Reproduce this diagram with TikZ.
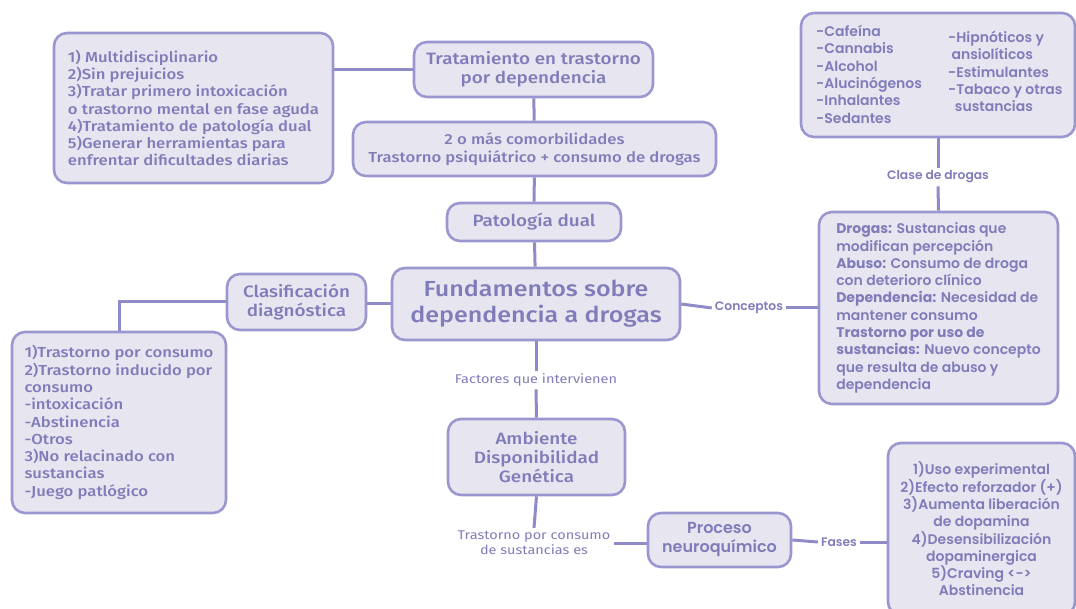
\documentclass[tikz,border=0pt]{standalone}
\usepackage{fontspec}
\setmainfont{Fira Sans}[UprightFont=* Medium, BoldFont=* SemiBold, FakeStretch=1.15]
\newfontfamily\lfont{Fira Sans}[FakeStretch=1.15]
\newfontfamily\pfont{Poppins}[UprightFont=* SemiBold, BoldFont=* Bold]
\definecolor{fillc}{HTML}{E7E5F0}
\definecolor{bordc}{HTML}{9A96CF}
\definecolor{linec}{HTML}{8F8BC8}
\definecolor{txtc}{HTML}{807CBA}
\tikzset{
  box/.style={draw=bordc, fill=fillc, line width=2.6pt, rounded corners=13pt, text=txtc, inner sep=0pt},
  conn/.style={draw=linec, line width=3pt},
  lbl/.style={text=txtc, inner sep=3pt, align=center},
  fs/.style={font=\fontsize{14.5}{17.3}\selectfont},
  fb/.style={font=\fontsize{16.4}{19}\selectfont},
  ps/.style={font=\pfont\fontsize{14}{17.3}\selectfont},
}
\begin{document}
\begin{tikzpicture}[x=1pt,y=-1pt]
\useasboundingbox (0,0) rectangle (1076,609);
\clip (0,0) rectangle (1076,609);
% boxes
\node[box, fs, align=left, minimum width=279pt, minimum height=150pt] (tl) at (193.5,108) {1) Multidisciplinario\\2)Sin prejuicios\\3)Tratar primero intoxicación\\o trastorno mental en fase aguda\\4)Tratamiento de patología dual\\5)Generar herramientas para\\enfrentar dificultades diarias};
\node[box, align=center, fb, minimum width=239pt, minimum height=55pt] (trat) at (533.5,69.5) {Tratamiento en trastorno\\por dependencia};
\node[box, align=center, fs, minimum width=363pt, minimum height=54pt] (como) at (534.5,149) {2 o más comorbilidades\\Trastorno psiquiátrico + consumo de drogas};
\node[box, align=center, fb, minimum width=174pt, minimum height=38pt] (pat) at (534,222) {Patología dual};
\node[box, align=center, font=\fontsize{21.8}{26}\selectfont, minimum width=288pt, minimum height=72pt] (fund) at (536,304) {\raisebox{-2pt}{Fundamentos sobre}\\\raisebox{-2pt}{dependencia a drogas}};
\node[box, align=center, fb, minimum width=139pt, minimum height=56pt] (clas) at (296.5,302) {Clasificación\\diagnóstica};
\node[box, fs, align=left, minimum width=214pt, minimum height=181pt] (ll) at (119,422.5) {1)Trastorno por consumo\\2)Trastorno inducido por\\consumo\\-intoxicación\\-Abstinencia\\-Otros\\3)No relacinado con\\sustancias\\-Juego patlógico};
\node[box, align=center, fb, minimum width=177pt, minimum height=76pt] (amb) at (536.5,457) {Ambiente\\Disponibilidad\\Genética};
\node[box, align=center, font=\pfont\fontsize{16}{19}\selectfont, minimum width=143pt, minimum height=54pt] (proc) at (719.5,540) {Proceso\\neuroquímico};
\node[box, align=center, ps, minimum width=187pt, minimum height=172pt] (fases) at (981.5,529) {1)Uso experimental\\2)Efecto reforzador (+)\\3)Aumenta liberación\\de dopamina\\4)Desensibilización\\dopaminergica\\5)Craving <->\\Abstinencia};
\node[box, minimum width=274pt, minimum height=124pt] (drugs) at (938,75) {};
\node[ps, text=txtc, align=left, inner sep=0pt, anchor=north west] (drugsL) at (816,25) {-Cafeína\\-Cannabis\\-Alcohol\\-Alucinógenos\\-Inhalantes\\-Sedantes};
\node[ps, text=txtc, align=left, inner sep=0pt, anchor=north west] (drugsR) at (948,31) {-Hipnóticos y\\\ ansiolíticos\\-Estimulantes\\-Tabaco y otras\\\ \ sustancias};
\node[box, ps, align=left, minimum width=239pt, minimum height=192pt] (conc) at (938.5,308) {\textbf{Drogas:} Sustancias que\\modifican percepción\\\textbf{Abuso:} Consumo de droga\\con deterioro clínico\\\textbf{Dependencia:} Necesidad de\\mantener consumo\\\textbf{Trastorno por uso de}\\\textbf{sustancias:} Nuevo concepto\\que resulta de abuso y\\dependencia};
% labels
\node[lbl, font=\pfont\fontsize{12.3}{13}\selectfont] (lconc) at (749,308) {Conceptos};
\node[lbl, font=\pfont\fontsize{12.3}{13}\selectfont] (lclase) at (938,177) {Clase de drogas};
\node[lbl, font=\pfont\fontsize{12.3}{13}\selectfont] (lfases) at (839,542) {Fases};
\node[lbl, font=\lfont\fontsize{12.6}{14}\selectfont] (lfact) at (536,380) {Factores que intervienen};
\node[lbl, font=\lfont\fontsize{12.6}{15}\selectfont] (ltras) at (534,543) {Trastorno por consumo\\de sustancias es};
% connectors
\draw[conn] (tl.east |- trat.west) -- (trat.west);
\draw[conn] (trat) -- (como);
\draw[conn] (como) -- (pat);
\draw[conn] (pat) -- (fund);
\draw[conn] (fund.west) -- (clas.east |- fund.west);
\draw[conn] (clas.west) -| (ll.north);
\draw[conn] (fund.east) -- (lconc.west);
\draw[conn] (lconc.east) -- (conc.west);
\draw[conn] (drugs.south) -- (lclase.north);
\draw[conn] (lclase.south) -- (conc.north);
\draw[conn] (fund.south) -- (lfact.north);
\draw[conn] (lfact.south) -- (amb.north);
\draw[conn] (amb.south) -- (ltras.north);
\draw[conn] (ltras.east) -- (proc.west |- ltras.east);
\draw[conn] (proc.east) -- (lfases.west);
\draw[conn] (lfases.east) -- (fases.west |- lfases.east);
\end{tikzpicture}
\end{document}
